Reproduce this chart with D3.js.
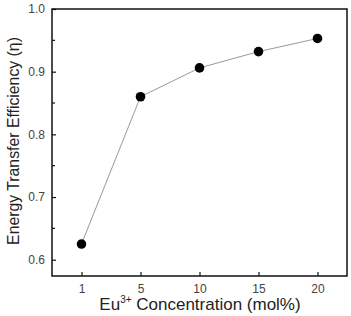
<!DOCTYPE html>
<html>
<head>
<meta charset="utf-8">
<script src="https://cdn.jsdelivr.net/npm/d3@7"></script>
<style>
  body { margin: 0; background: #fff; }
  text { font-family: "Liberation Sans", Arial, sans-serif; }
</style>
</head>
<body>
<div class="chart"></div>
<script>
// data
var concentration = ["1", "5", "10", "15", "20"];
var efficiency = [0.625, 0.860, 0.906, 0.932, 0.953];
var yTicks = [0.6, 0.7, 0.8, 0.9, 1.0];
var yMinorTicks = [0.65, 0.75, 0.85, 0.95];

var svgWidth = 351;
var svgHeight = 316;

var margin = { top: 9, right: 4, bottom: 40, left: 52 };
var width = svgWidth - margin.left - margin.right;
var height = svgHeight - margin.top - margin.bottom;

var svg = d3.select(".chart").append("svg")
  .attr("width", svgWidth)
  .attr("height", svgHeight);

var chartGroup = svg.append("g")
  .attr("transform", `translate(${margin.left}, ${margin.top})`);

var xScale = d3.scalePoint().domain(concentration).range([0, width]).padding(0.5);
var yScale = d3.scaleLinear().domain([0.574, 1.0]).range([height, 0]);

// frame
chartGroup.append("rect")
  .attr("width", width).attr("height", height)
  .attr("fill", "none").attr("stroke", "#111").attr("stroke-width", 1.5);

// inward ticks
var bottomAxis = d3.axisBottom(xScale).tickSizeInner(-4).tickSizeOuter(0).tickPadding(8);
var leftAxis = d3.axisLeft(yScale).tickValues(yTicks).tickFormat(d3.format(".1f"))
  .tickSizeInner(-4).tickSizeOuter(0).tickPadding(7);

var gx = chartGroup.append("g").attr("transform", `translate(0, ${height})`).call(bottomAxis);
var gy = chartGroup.append("g").call(leftAxis);

chartGroup.selectAll(".minor")
  .data(yMinorTicks)
  .enter()
  .append("line")
  .attr("x1", 0).attr("x2", 3)
  .attr("y1", d => yScale(d)).attr("y2", d => yScale(d))
  .attr("stroke", "#111").attr("stroke-width", 1.2);

[gx, gy].forEach(function(g) {
  g.select(".domain").remove();
  g.selectAll(".tick line").attr("stroke", "#111").attr("stroke-width", 1.2);
  g.selectAll(".tick text").attr("font-size", 12).attr("fill", "#444");
});
gx.selectAll(".tick text").attr("dy", "0.71em");

// line and points
var line = d3.line()
  .x((d, i) => xScale(concentration[i]))
  .y(d => yScale(d));

chartGroup.append("path")
  .datum(efficiency)
  .attr("d", line)
  .attr("fill", "none")
  .attr("stroke", "#999")
  .attr("stroke-width", 1);

chartGroup.selectAll("circle")
  .data(efficiency)
  .enter()
  .append("circle")
  .attr("cx", (d, i) => xScale(concentration[i]))
  .attr("cy", d => yScale(d))
  .attr("r", 4.8)
  .attr("fill", "#000");

// axis titles
var xTitle = svg.append("text")
  .attr("x", 200)
  .attr("y", 310)
  .attr("text-anchor", "middle")
  .attr("font-size", 17)
  .attr("fill", "#222");
xTitle.append("tspan").text("Eu");
xTitle.append("tspan").attr("dy", -7).attr("font-size", 10).text("3+");
xTitle.append("tspan").attr("dy", 7).text(" Concentration (mol%)");

svg.append("text")
  .attr("transform", "translate(19, 141) rotate(-90)")
  .attr("text-anchor", "middle")
  .attr("font-size", 15.8)
  .attr("fill", "#222")
  .text("Energy Transfer Efficiency (η)");
</script>
</body>
</html>
